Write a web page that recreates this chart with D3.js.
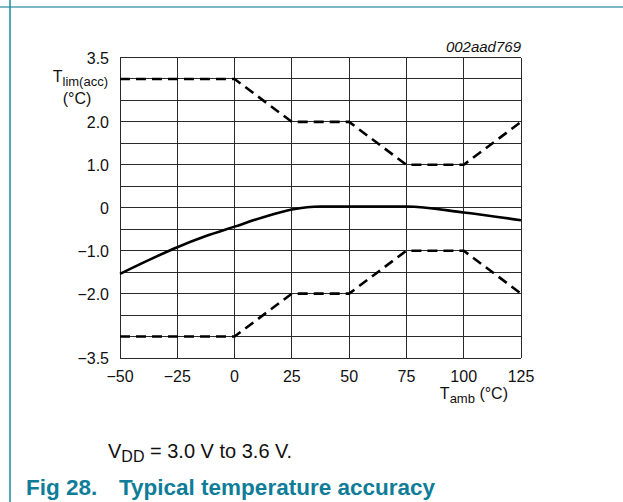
<!DOCTYPE html>
<html>
<head>
<meta charset="utf-8">
<script src="https://cdn.jsdelivr.net/npm/d3@7"></script>
<style>
  html, body { margin: 0; padding: 0; background: #fff; }
  svg { display: block; font-family: "Liberation Sans", Arial, sans-serif; }
</style>
</head>
<body>
<svg id="chart" width="623" height="502"></svg>
<script>
// Ambient temperature (°C) and accuracy limits / typical accuracy (°C)
const temps = [-50, 0, 25, 50, 75, 100, 125];
const upperLimit = [3, 3, 2, 2, 1, 1, 2];
const lowerLimit = [-3, -3, -2, -2, -1, -1, -2];
const typicalTemps = [-50, -37.5, -25, -12.5, 0, 12.5, 25, 37.5, 50, 75, 100, 125];
const typicalAcc = [-1.54, -1.22, -0.92, -0.66, -0.44, -0.22, -0.04, 0.03, 0.03, 0.03, -0.11, -0.29];
const xTicks = [-50, -25, 0, 25, 50, 75, 100, 125];
const yGrid = d3.range(-3.5, 3.51, 0.5);
const yTickLabels = [
  { v: 3.5, t: "3.5" }, { v: 2, t: "2.0" }, { v: 1, t: "1.0" }, { v: 0, t: "0" },
  { v: -1, t: "\u22121.0" }, { v: -2, t: "\u22122.0" }, { v: -3.5, t: "\u22123.5" }
];

const svg = d3.select("#chart");
const teal = "#0f7d98";
const ink = "#111";

// page frame
svg.append("line").attr("x1", 0).attr("x2", 623).attr("y1", 7).attr("y2", 7)
  .attr("stroke", "#7db7c6").attr("stroke-width", 2);
svg.append("line").attr("x1", 10).attr("x2", 10).attr("y1", 0).attr("y2", 502)
  .attr("stroke", "#1a8ba3").attr("stroke-width", 1.5);

const x = d3.scaleLinear().domain([-50, 125]).range([120, 521]);
const y = d3.scaleLinear().domain([-3.5, 3.5]).range([358, 57.5]);

const g = svg.append("g");

// grid
g.selectAll("line.h").data(yGrid).join("line")
  .attr("x1", x(-50)).attr("x2", x(125))
  .attr("y1", d => y(d)).attr("y2", d => y(d))
  .attr("stroke", "#2a2a2a").attr("stroke-width", 1).attr("shape-rendering", "crispEdges");
g.selectAll("line.v").data(xTicks).join("line")
  .attr("y1", y(-3.5)).attr("y2", y(3.5))
  .attr("x1", d => x(d)).attr("x2", d => x(d))
  .attr("stroke", "#2a2a2a").attr("stroke-width", 1).attr("shape-rendering", "crispEdges");

// x tick labels
g.selectAll("text.xt").data(xTicks).join("text")
  .attr("x", d => x(d)).attr("y", 382)
  .attr("text-anchor", "middle").attr("font-size", 16).attr("fill", ink)
  .text(d => d < 0 ? "\u2212" + Math.abs(d) : d);

// y tick labels
g.selectAll("text.yt").data(yTickLabels).join("text")
  .attr("x", 109).attr("y", d => y(d.v) + 6)
  .attr("text-anchor", "end").attr("font-size", 16).attr("fill", ink)
  .text(d => d.t);

// curves
const line = d3.line().x(d => x(d[0])).y(d => y(d[1]));
[upperLimit, lowerLimit].forEach(vals => {
  g.append("path").datum(temps.map((t, i) => [t, vals[i]]))
    .attr("d", line).attr("fill", "none").attr("stroke", "#000")
    .attr("stroke-width", 2.6).attr("stroke-dasharray", "10,6");
});
g.append("path").datum(typicalTemps.map((t, i) => [t, typicalAcc[i]]))
  .attr("d", d3.line().curve(d3.curveMonotoneX).x(d => x(d[0])).y(d => y(d[1])))
  .attr("fill", "none").attr("stroke", "#000").attr("stroke-width", 2.6);

// axis titles
const yl = svg.append("text").attr("x", 108).attr("y", 82).attr("text-anchor", "end")
  .attr("font-size", 16).attr("fill", ink);
yl.append("tspan").text("T");
yl.append("tspan").attr("font-size", 13).attr("dy", 4).text("lim(acc)");
svg.append("text").attr("x", 77).attr("y", 104).attr("text-anchor", "middle")
  .attr("font-size", 16).attr("fill", ink).text("(\u00B0C)");

const xl = svg.append("text").attr("x", 508).attr("y", 399).attr("text-anchor", "end")
  .attr("font-size", 16).attr("fill", ink);
xl.append("tspan").text("T");
xl.append("tspan").attr("font-size", 13).attr("dy", 4).text("amb");
xl.append("tspan").attr("dy", -4).text(" (\u00B0C)");

svg.append("text").attr("x", 521).attr("y", 52).attr("text-anchor", "end")
  .attr("font-size", 15).attr("font-style", "italic").attr("fill", ink).text("002aad769");

// note and figure caption
const note = svg.append("text").attr("x", 108).attr("y", 458)
  .attr("font-size", 20).attr("fill", ink);
note.append("tspan").text("V");
note.append("tspan").attr("font-size", 16).attr("dy", 4).text("DD");
note.append("tspan").attr("dy", -4).text(" = 3.0 V to 3.6 V.");

svg.append("text").attr("x", 26).attr("y", 495)
  .attr("font-size", 22.5).attr("font-weight", "bold").attr("fill", teal)
  .text("Fig 28.");
svg.append("text").attr("x", 119).attr("y", 495)
  .attr("font-size", 22.5).attr("font-weight", "bold").attr("fill", teal)
  .text("Typical temperature accuracy");
</script>
</body>
</html>
